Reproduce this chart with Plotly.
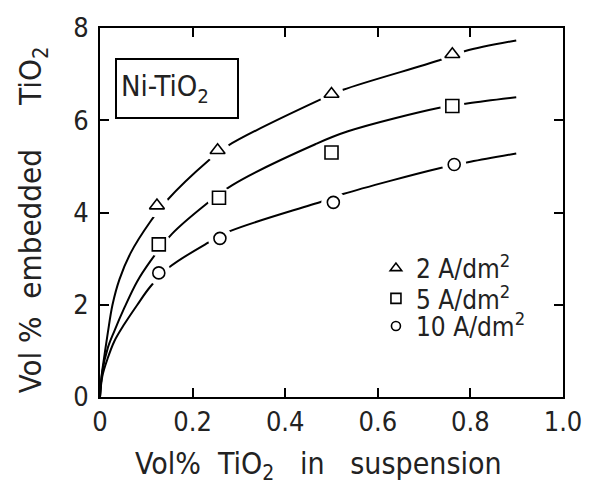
import plotly.graph_objects as go

# measured points
x_pts = [0.123, 0.254, 0.50, 0.761]
y_tri = [4.15, 5.35, 6.57, 7.43]
x_sq = [0.127, 0.257, 0.50, 0.761]
y_sq = [3.31, 4.32, 5.30, 6.31]
x_ci = [0.127, 0.259, 0.504, 0.765]
y_ci = [2.69, 3.44, 4.22, 5.04]

# smooth curves
cx_tri = [0, 0.004, 0.01, 0.017, 0.027, 0.042, 0.066, 0.1085, 0.1445, 0.2326, 0.275, 0.472, 0.525, 0.733, 0.789, 0.899]
cy_tri = [0, 0.5, 0.93, 1.4, 2.0, 2.55, 3.12, 3.8, 4.26, 5.11, 5.44, 6.43, 6.66, 7.3, 7.5, 7.73]
cx_sq = [0, 0.005, 0.017, 0.031, 0.052, 0.08, 0.1085, 0.155, 0.2256, 0.285, 0.465, 0.5356, 0.733, 0.796, 0.899]
cy_sq = [0, 0.55, 1.07, 1.43, 1.92, 2.5, 2.94, 3.53, 4.15, 4.59, 5.48, 5.76, 6.27, 6.37, 6.5]
cx_ci = [0, 0.005, 0.017, 0.031, 0.052, 0.08, 0.1085, 0.148, 0.2326, 0.282, 0.479, 0.525, 0.733, 0.8, 0.899]
cy_ci = [0, 0.45, 0.85, 1.21, 1.57, 1.99, 2.39, 2.8, 3.34, 3.6, 4.24, 4.40, 4.96, 5.1, 5.28]

labels = ["2 A/dm<sup>2</sup>", "5 A/dm<sup>2</sup>", "10 A/dm<sup>2</sup>"]
symbols = ["triangle-up-open", "square-open", "circle-open"]
msizes = [13, 13, 12]
legend_ids = ["legend", "legend2", "legend3"]
legend_y = [0.349, 0.267, 0.192]

x_ticks = [0, 0.2, 0.4, 0.6, 0.8, 1.0]
x_ticktext = ["0", "0.2", "0.4", "0.6", "0.8", "1.0"]
y_ticks = [0, 2, 4, 6, 8]

FONT = "DejaVu Sans Condensed, DejaVu Sans, sans-serif"

fig = go.Figure()
curves = [(cx_tri, cy_tri), (cx_sq, cy_sq), (cx_ci, cy_ci)]
for cx, cy in curves:
    fig.add_trace(go.Scatter(x=cx, y=cy, mode="lines", line=dict(color="black", width=2, shape="spline", smoothing=1.0),
                             showlegend=False, hoverinfo="skip"))
pts = [(x_pts, y_tri), (x_sq, y_sq), (x_ci, y_ci)]
# white halos so the curves break around the markers
for px, py in pts:
    fig.add_trace(go.Scatter(x=px, y=py, mode="markers", marker=dict(color="white", size=24, line=dict(width=0)),
                             showlegend=False, hoverinfo="skip"))
for (px, py), sym, ms in zip(pts, symbols, msizes):
    fig.add_trace(go.Scatter(x=px, y=py, mode="markers",
                             marker=dict(symbol=sym, size=ms, color="black", line=dict(width=1.6, color="black")),
                             showlegend=False))
for lab, sym, ms, lid in zip(labels, symbols, msizes, legend_ids):
    fig.add_trace(go.Scatter(x=[None], y=[None], mode="markers", name=lab, legend=lid,
                             marker=dict(symbol=sym, size=ms - 3, color="black", line=dict(width=1.6, color="black"))))

axis_common = dict(showline=True, linecolor="black", linewidth=2, mirror="ticks", ticks="inside",
                   ticklen=9, tickwidth=1.5, tickcolor="black", showgrid=False, zeroline=False,
                   tickfont=dict(family=FONT, size=27, color="#222"))
fig.update_xaxes(range=[0, 1.0], tickvals=x_ticks, ticktext=x_ticktext, ticklabelstandoff=0, **axis_common)
fig.update_yaxes(range=[0, 8], tickvals=y_ticks, ticklabelstandoff=4, **axis_common)

fig.add_annotation(text="Ni-TiO<sub>2</sub>", xref="paper", yref="paper", x=0.033, y=0.918,
                   xanchor="left", yanchor="top", showarrow=False, align="left",
                   width=112, height=49, borderpad=4, bordercolor="black", borderwidth=2,
                   font=dict(family=FONT, size=29, color="#222"))
fig.add_annotation(text="Vol%  TiO<sub>2</sub>   in   suspension", xref="paper", yref="paper",
                   x=0.472, y=-0.128, xanchor="center", yanchor="top", showarrow=False,
                   font=dict(family=FONT, size=30, color="#222"))
fig.add_annotation(text="Vol %  embedded     TiO<sub>2</sub>", xref="paper", yref="paper",
                   x=-0.144, y=0.48, xanchor="center", yanchor="middle", textangle=-90, showarrow=False,
                   font=dict(family=FONT, size=31, color="#222"))

leg_common = dict(x=0.596, xanchor="left", yanchor="middle", bgcolor="rgba(0,0,0,0)",
                  font=dict(family=FONT, size=26, color="#222"), itemwidth=30)
fig.update_layout(width=594, height=489, margin=dict(l=100, r=21, t=22, b=92),
                  plot_bgcolor="white", paper_bgcolor="white",
                  legend=dict(y=legend_y[0], **leg_common),
                  legend2=dict(y=legend_y[1], **leg_common),
                  legend3=dict(y=legend_y[2], **leg_common))
fig.write_html("out.html")
